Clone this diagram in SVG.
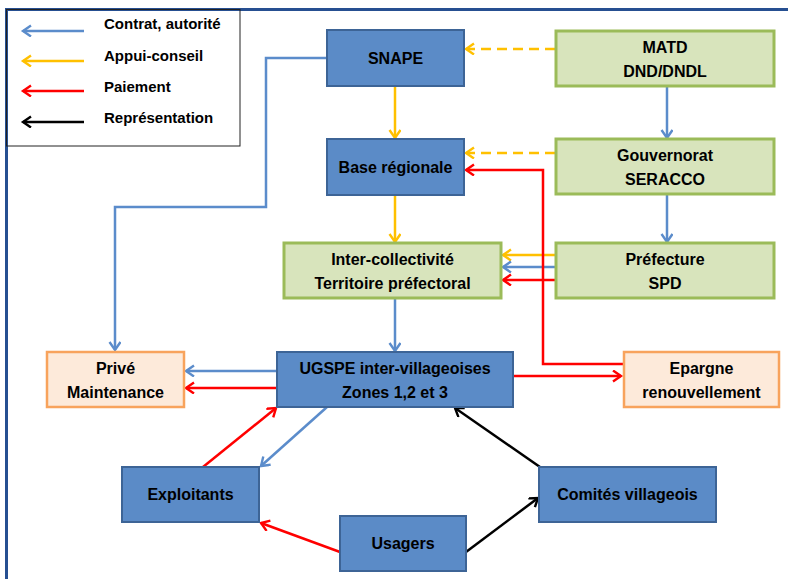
<svg xmlns="http://www.w3.org/2000/svg" width="788" height="579" viewBox="0 0 788 579">
<defs>
<marker id="mb" markerUnits="userSpaceOnUse" markerWidth="12" markerHeight="14" refX="9" refY="6" orient="auto"><path d="M1,0.5 L9,6 L1,11.5" fill="none" stroke="#5B8CCB" stroke-width="2.4"/></marker>
<marker id="my" markerUnits="userSpaceOnUse" markerWidth="12" markerHeight="14" refX="9" refY="6" orient="auto"><path d="M1,0.5 L9,6 L1,11.5" fill="none" stroke="#FFC000" stroke-width="2.4"/></marker>
<marker id="mr" markerUnits="userSpaceOnUse" markerWidth="12" markerHeight="14" refX="9" refY="6" orient="auto"><path d="M1,0.5 L9,6 L1,11.5" fill="none" stroke="#FF0000" stroke-width="2.4"/></marker>
<marker id="mk" markerUnits="userSpaceOnUse" markerWidth="12" markerHeight="14" refX="9" refY="6" orient="auto"><path d="M1,0.5 L9,6 L1,11.5" fill="none" stroke="#000000" stroke-width="2.4"/></marker>
</defs>
<style>
text{font-family:"Liberation Sans",Arial,sans-serif;font-weight:bold;fill:#000}
.n text{font-size:16px;text-anchor:middle}
.blue rect{fill:#5B8BC7;stroke:#3D6496;stroke-width:2}
.green rect{fill:#D8E4BC;stroke:#9BBB59;stroke-width:3}
.orange rect{fill:#FDEADA;stroke:#F8A35C;stroke-width:2.5}
.c path,.c line{fill:none;stroke-width:2.5}
.b{stroke:#5B8CCB;marker-end:url(#mb)}
.y{stroke:#FFC000;marker-end:url(#my)}
.r{stroke:#FF0000;marker-end:url(#mr)}
.k{stroke:#000;marker-end:url(#mk)}
.d{stroke-dasharray:10,6}
.leg text{font-size:15px}
</style>
<rect width="788" height="579" fill="#fff"/>
<rect x="6.5" y="9.5" width="800" height="600" fill="none" stroke="#264F91" stroke-width="3"/>
<g id="legend" class="leg c">
<rect x="6.5" y="9.5" width="233.5" height="136.5" fill="none" stroke="#222" stroke-width="1"/>
<line x1="84" y1="31" x2="23" y2="31" class="b"/>
<line x1="84" y1="61" x2="23" y2="61" class="y"/>
<line x1="84" y1="91" x2="23" y2="91" class="r"/>
<line x1="84" y1="122" x2="23" y2="122" class="k"/>
<text x="104" y="29">Contrat, autorité</text>
<text x="104" y="61">Appui-conseil</text>
<text x="104" y="92">Paiement</text>
<text x="104" y="123">Représentation</text>
</g>
<g id="connectors" class="c">
<line x1="555" y1="49" x2="466" y2="49" class="y d"/>
<line x1="555" y1="153" x2="466" y2="153" class="y d"/>
<line x1="395" y1="86" x2="395" y2="138" class="y"/>
<line x1="395" y1="195" x2="395" y2="242" class="y"/>
<line x1="667" y1="86" x2="667" y2="138" class="b"/>
<line x1="667" y1="195" x2="667" y2="242" class="b"/>
<line x1="555" y1="255" x2="503" y2="255" class="y"/>
<line x1="555" y1="267" x2="503" y2="267" class="b"/>
<line x1="555" y1="280" x2="503" y2="280" class="r"/>
<path d="M623,364 H543 V170 H466" class="r"/>
<line x1="513" y1="376" x2="621" y2="376" class="r"/>
<line x1="395" y1="298" x2="395" y2="351" class="b"/>
<path d="M327,58 H266 V207 H115 V350" class="b"/>
<line x1="277" y1="371" x2="186" y2="371" class="b"/>
<line x1="277" y1="388" x2="186" y2="388" class="r"/>
<line x1="203" y1="467" x2="276" y2="408" class="r"/>
<line x1="327" y1="407" x2="261" y2="466" class="b"/>
<line x1="340" y1="552" x2="261" y2="523" class="r"/>
<line x1="466" y1="552" x2="538" y2="498" class="k"/>
<line x1="540" y1="467" x2="455" y2="408" class="k"/>
</g>
<g id="snape" class="n blue"><rect x="327" y="30" width="137" height="56"/><text x="395.5" y="64">SNAPE</text></g>
<g id="matd" class="n green"><rect x="556" y="31" width="218" height="55"/><text x="665" y="53">MATD</text><text x="665" y="77">DND/DNDL</text></g>
<g id="base" class="n blue"><rect x="327" y="139" width="137" height="56"/><text x="395.5" y="173">Base régionale</text></g>
<g id="gouvernorat" class="n green"><rect x="556" y="139" width="218" height="55"/><text x="665" y="161">Gouvernorat</text><text x="665" y="185">SERACCO</text></g>
<g id="inter" class="n green"><rect x="284" y="243" width="217" height="55"/><text x="392.5" y="265">Inter-collectivité</text><text x="392.5" y="289">Territoire préfectoral</text></g>
<g id="prefecture" class="n green"><rect x="556" y="243" width="218" height="55"/><text x="665" y="265">Préfecture</text><text x="665" y="289">SPD</text></g>
<g id="ugspe" class="n blue"><rect x="277" y="352" width="236" height="55"/><text x="395" y="374">UGSPE inter-villageoises</text><text x="395" y="398">Zones 1,2 et 3</text></g>
<g id="epargne" class="n orange"><rect x="624" y="352" width="155" height="55"/><text x="701.5" y="374">Epargne</text><text x="701.5" y="398">renouvellement</text></g>
<g id="prive" class="n orange"><rect x="47" y="352" width="137" height="55"/><text x="115.5" y="374">Privé</text><text x="115.5" y="398">Maintenance</text></g>
<g id="exploitants" class="n blue"><rect x="122" y="467" width="137" height="55"/><text x="190.5" y="500">Exploitants</text></g>
<g id="usagers" class="n blue"><rect x="340" y="516" width="126" height="55"/><text x="403" y="549">Usagers</text></g>
<g id="comites" class="n blue"><rect x="539" y="467" width="177" height="55"/><text x="627.5" y="500">Comités villageois</text></g>
</svg>
